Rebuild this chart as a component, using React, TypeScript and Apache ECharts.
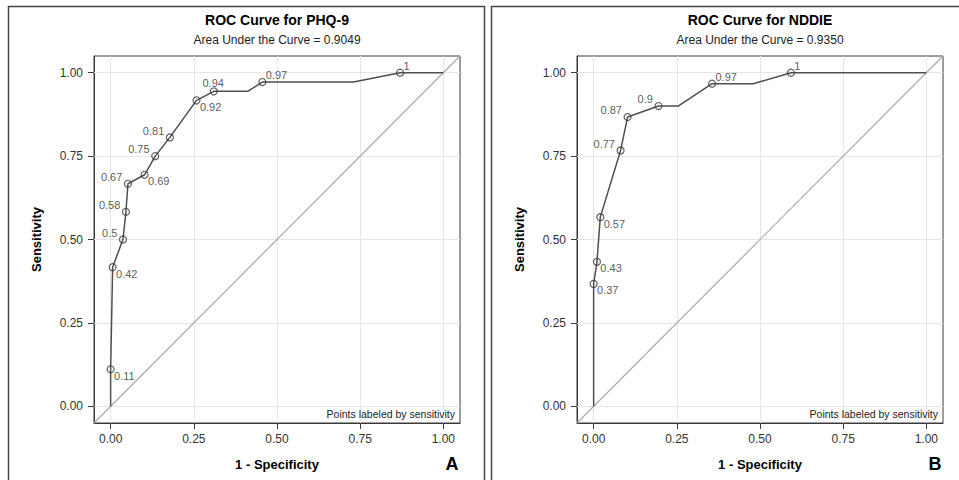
import React, { useEffect, useRef } from "react";
import * as echarts from "echarts";

// ---- Data ----
const TICKS = [0, 0.25, 0.5, 0.75, 1.0];
const AXIS_MIN = -0.05;
const AXIS_MAX = 1.05;

// PHQ-9 ROC curve (all vertices)
const phqCurveX = [0, 0, 0.006, 0.037, 0.046, 0.052, 0.102, 0.134, 0.178, 0.258, 0.31, 0.412, 0.456, 0.73, 0.87, 1.0];
const phqCurveY = [0, 0.111, 0.417, 0.5, 0.583, 0.667, 0.694, 0.75, 0.806, 0.917, 0.944, 0.944, 0.972, 0.972, 1.0, 1.0];
// PHQ-9 labelled points
const phqPointX = [0, 0.006, 0.037, 0.046, 0.052, 0.102, 0.134, 0.178, 0.258, 0.31, 0.456, 0.87];
const phqPointY = [0.111, 0.417, 0.5, 0.583, 0.667, 0.694, 0.75, 0.806, 0.917, 0.944, 0.972, 1.0];
const phqLabels = ["0.11", "0.42", "0.5", "0.58", "0.67", "0.69", "0.75", "0.81", "0.92", "0.94", "0.97", "1"];
const phqPlacement = ["br", "br", "tl", "tl", "tl", "br", "tl", "tl", "br", "t", "tr", "tr"];

// NDDIE ROC curve (all vertices)
const nddieCurveX = [0, 0, 0.01, 0.02, 0.081, 0.102, 0.195, 0.254, 0.356, 0.48, 0.593, 1.0];
const nddieCurveY = [0, 0.367, 0.433, 0.567, 0.767, 0.867, 0.9, 0.9, 0.967, 0.967, 1.0, 1.0];
// NDDIE labelled points
const nddiePointX = [0, 0.01, 0.02, 0.081, 0.102, 0.195, 0.356, 0.593];
const nddiePointY = [0.367, 0.433, 0.567, 0.767, 0.867, 0.9, 0.967, 1.0];
const nddieLabels = ["0.37", "0.43", "0.57", "0.77", "0.87", "0.9", "0.97", "1"];
const nddiePlacement = ["br", "br", "br", "tl", "tl", "tl", "tr", "tr"];

const titles = ["ROC Curve for PHQ-9", "ROC Curve for NDDIE"];
const subtitles = ["Area Under the Curve = 0.9049", "Area Under the Curve = 0.9350"];
const panelLetters = ["A", "B"];

const FONT = "'Liberation Sans', Arial, Helvetica, sans-serif";
const SYMBOL = 7;
const H = SYMBOL / 2;

// label position relative to the marker's bounding box (top-left corner)
const placementStyle: Record<string, any> = {
  br: { align: "left", verticalAlign: "middle", position: [H + 4, H + 7] },
  tl: { align: "right", verticalAlign: "middle", position: [H - 5, H - 6] },
  tr: { align: "left", verticalAlign: "middle", position: [H + 4, H - 6] },
  t: { align: "center", verticalAlign: "middle", position: [H, H - 8] },
};

const GRID_LEFTS = [94, 577];
const GRID_TOP = 56;
const GRID_W = 366;
const GRID_H = 367;

function buildPanel(i: number, cx: number[], cy: number[], px: number[], py: number[], labels: string[], placement: string[]) {
  const curve = cx.map((x, k) => [x, cy[k]]);
  const points = px.map((x, k) => ({
    value: [x, py[k]],
    label: {
      show: true,
      formatter: labels[k],
      fontSize: 11,
      color: "#2e2e2e",
      fontFamily: FONT,
      textBorderWidth: 0,
      ...placementStyle[placement[k]],
    },
  }));
  return [
    {
      type: "line",
      xAxisIndex: i,
      yAxisIndex: i,
      color: "#aaaaaa",
      data: [
        [AXIS_MIN, AXIS_MIN],
        [AXIS_MAX, AXIS_MAX],
      ],
      showSymbol: false,
      symbol: "none",
      silent: true,
      z: 2,
      lineStyle: { color: "#aaaaaa", width: 1.2 },
      markLine: {
        silent: true,
        symbol: ["none", "none"],
        label: { show: false },
        lineStyle: { color: "#e6e6e6", width: 1, type: "solid" },
        z: 1,
        data: [...TICKS.map((t) => ({ xAxis: t })), ...TICKS.map((t) => ({ yAxis: t }))],
      },
    },
    {
      type: "line",
      xAxisIndex: i,
      yAxisIndex: i,
      color: "#4f4f4f",
      data: curve,
      showSymbol: false,
      symbol: "none",
      z: 3,
      lineStyle: { color: "#4f4f4f", width: 1.5 },
    },
    {
      type: "scatter",
      xAxisIndex: i,
      yAxisIndex: i,
      color: "#333333",
      data: points,
      symbol: "circle",
      symbolSize: SYMBOL,
      z: 4,
      itemStyle: { color: "rgba(0,0,0,0)", borderColor: "#3a3a3a", borderWidth: 1.2 },
      label: {
        show: true,
        fontSize: 11,
        color: "#2e2e2e",
        fontFamily: FONT,
      },
    },
  ];
}

function axisCommon(i: number) {
  return {
    type: "value",
    gridIndex: i,
    min: AXIS_MIN,
    max: AXIS_MAX,
    axisLine: { show: true, onZero: false, lineStyle: { color: "#3a3a3a", width: 1 } },
    axisTick: { show: true, customValues: TICKS, length: 6, lineStyle: { color: "#3a3a3a" } },
    axisLabel: {
      customValues: TICKS,
      formatter: (v: number) => v.toFixed(2),
      fontSize: 12,
      color: "#333",
      fontFamily: FONT,
    },
    splitLine: { show: false },
    nameLocation: "middle",
    nameTextStyle: { fontSize: 13, fontWeight: "bold", color: "#000", fontFamily: FONT },
  };
}

export default function App() {
  const ref = useRef<HTMLDivElement>(null);
  useEffect(() => {
    if (!ref.current) return;
    const chart = echarts.init(ref.current, null, { renderer: "svg" });

    const graphics: any[] = [];
    [0, 1].forEach((i) => {
      const left = GRID_LEFTS[i];
      const cx = left + GRID_W / 2;
      graphics.push({
        type: "rect",
        shape: { x: left - 86 + 0.5, y: 6.5, width: 476, height: 490 },
        style: { fill: "none", stroke: "#444", lineWidth: 1.5 },
        silent: true,
        z: 0,
      });
      graphics.push({
        type: "text",
        x: cx,
        y: 20,
        style: { text: titles[i], fontSize: 14, fontWeight: "bold", fontFamily: FONT, fill: "#000", align: "center", verticalAlign: "middle" },
      });
      graphics.push({
        type: "text",
        x: cx,
        y: 40,
        style: { text: subtitles[i], fontSize: 12, fontFamily: FONT, fill: "#222", align: "center", verticalAlign: "middle" },
      });
      graphics.push({
        type: "text",
        x: left + GRID_W - 5,
        y: 414,
        style: { text: "Points labeled by sensitivity", fontSize: 10.5, fontFamily: FONT, fill: "#222", align: "right", verticalAlign: "middle" },
        z: 10,
      });
      graphics.push({
        type: "text",
        x: left + GRID_W - 8,
        y: 464,
        style: { text: panelLetters[i], fontSize: 18, fontWeight: "bold", fontFamily: FONT, fill: "#000", align: "center", verticalAlign: "middle" },
      });
    });

    const option: any = {
      animation: false,
      backgroundColor: "#fff",
      grid: GRID_LEFTS.map((l) => ({
        left: l,
        top: GRID_TOP,
        width: GRID_W,
        height: GRID_H,
        show: true,
        borderColor: "#3a3a3a",
        borderWidth: 1,
        backgroundColor: "#fff",
        containLabel: false,
      })),
      xAxis: [0, 1].map((i) => ({
        ...axisCommon(i),
        name: "1 - Specificity",
        nameGap: 35,
        axisLabel: { ...axisCommon(i).axisLabel, margin: 10 },
      })),
      yAxis: [0, 1].map((i) => ({
        ...axisCommon(i),
        name: "Sensitivity",
        nameGap: 51,
        axisLabel: { ...axisCommon(i).axisLabel, margin: 11 },
      })),
      series: [
        ...buildPanel(0, phqCurveX, phqCurveY, phqPointX, phqPointY, phqLabels, phqPlacement),
        ...buildPanel(1, nddieCurveX, nddieCurveY, nddiePointX, nddiePointY, nddieLabels, nddiePlacement),
      ],
      graphic: graphics,
    };
    chart.setOption(option);
    return () => chart.dispose();
  }, []);
  return <div ref={ref} style={{ position: "fixed", left: 0, top: 0, width: 959, height: 480, background: "#fff" }} />;
}
